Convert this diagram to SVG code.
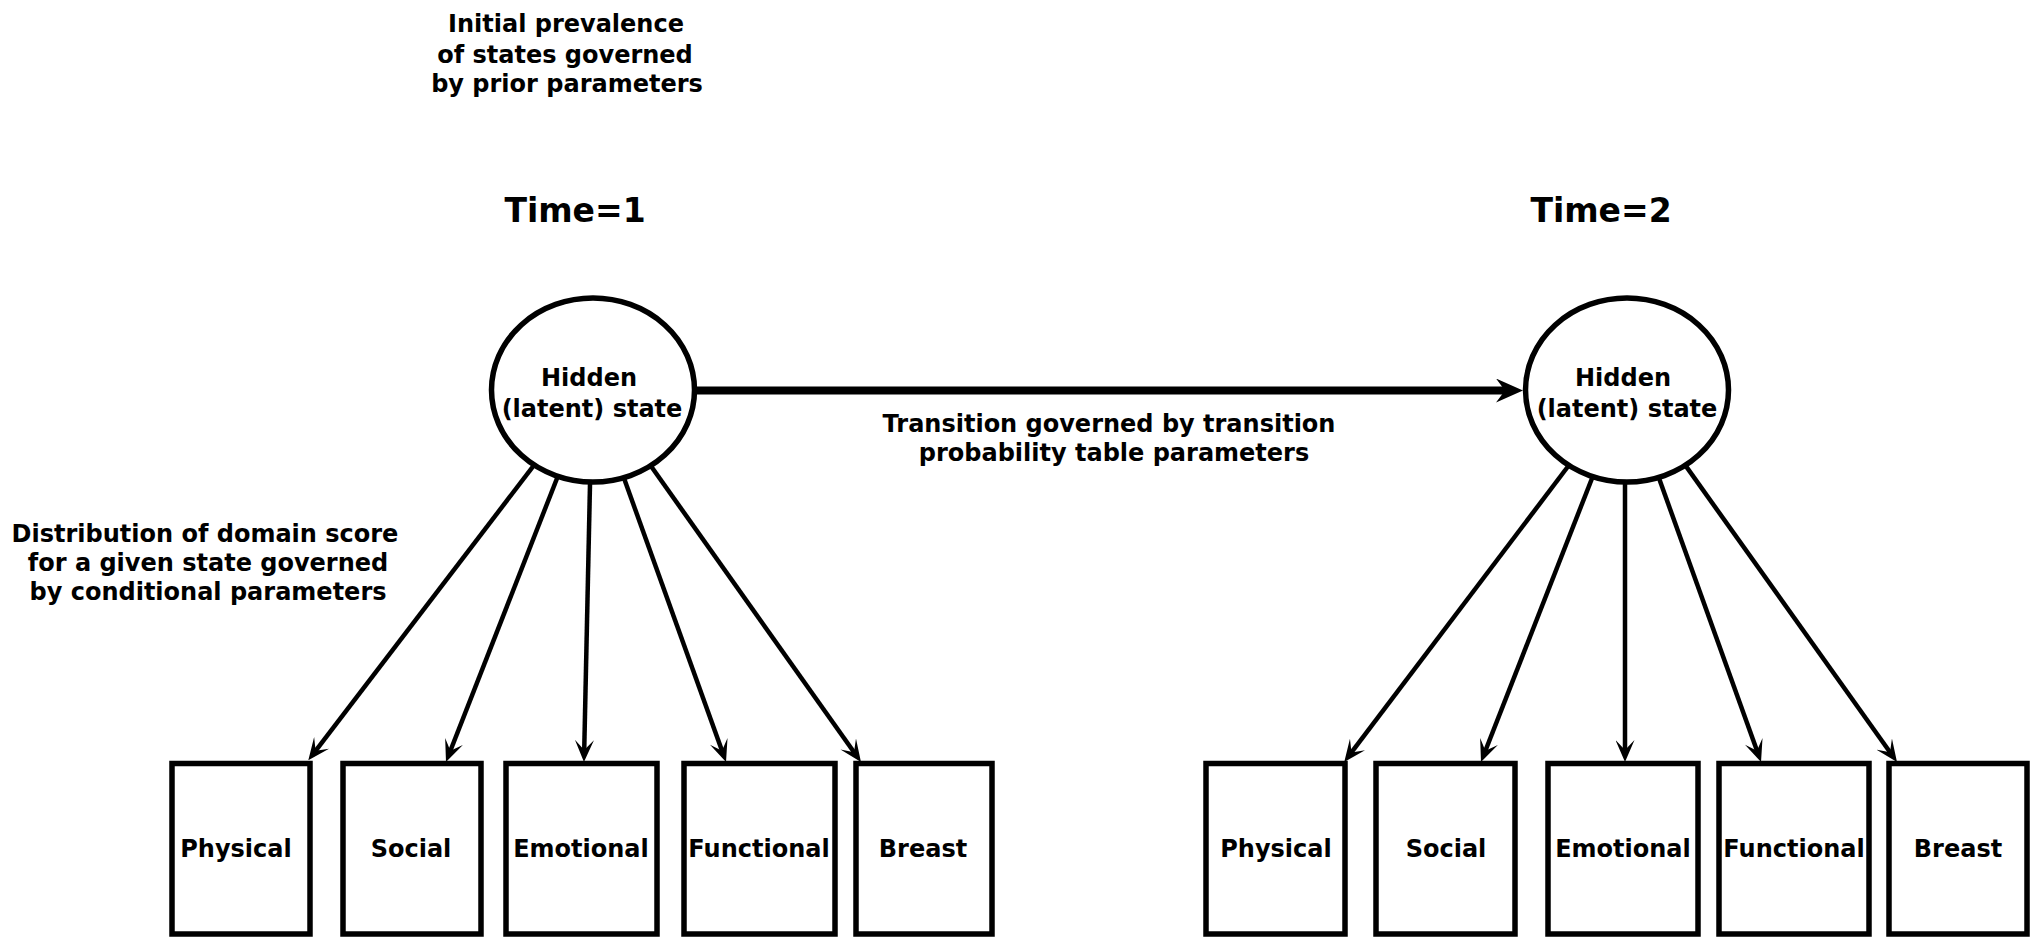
<svg xmlns="http://www.w3.org/2000/svg" width="2042" height="947" viewBox="0 0 2042 947">
  <style>
    .t { font-family: "DejaVu Sans", "Liberation Sans", sans-serif; font-weight: bold; font-size: 24px; fill: #000; text-anchor: middle; }
    .time { font-size: 33px; }
    .state { fill: #fff; stroke: #000; stroke-width: 5.5; }
    .box { fill: #fff; stroke: #000; stroke-width: 5.5; }
    .edge { stroke: #000; stroke-width: 4.5; fill: none; marker-end: url(#ah); }
    .trans { stroke: #000; stroke-width: 8; fill: none; marker-end: url(#ahBig); }
  </style>
  <defs>
    <marker id="ah" markerUnits="userSpaceOnUse" viewBox="0 0 22 19" markerWidth="22" markerHeight="19" refX="11" refY="9.5" orient="auto">
      <path d="M0,0 L22,9.5 L0,19 L10,9.5 Z" fill="#000"/>
    </marker>
    <marker id="ahBig" markerUnits="userSpaceOnUse" viewBox="0 0 27 24" markerWidth="27" markerHeight="24" refX="10" refY="12" orient="auto">
      <path d="M0,0 L27,12 L0,24 L9,12 Z" fill="#000"/>
    </marker>
  </defs>
  <rect width="2042" height="947" fill="#fff"/>

  <g id="annotations">
    <text class="t" x="566" y="32">Initial prevalence</text>
    <text class="t" x="565" y="63">of states governed</text>
    <text class="t" x="567" y="92">by prior parameters</text>
    <text class="t time" x="575" y="222">Time=1</text>
    <text class="t time" x="1601" y="222">Time=2</text>
    <text class="t" x="205" y="542">Distribution of domain score</text>
    <text class="t" x="208" y="571">for a given state governed</text>
    <text class="t" x="208" y="600">by conditional parameters</text>
    <text class="t" x="1109" y="432">Transition governed by transition</text>
    <text class="t" x="1114" y="461">probability table parameters</text>
  </g>

  <g id="connectors">
    <line class="trans" x1="690" y1="390.5" x2="1506" y2="390.5"/>
    <line class="edge" x1="537.1" y1="461.1" x2="315" y2="751.6"/>
    <line class="edge" x1="559.6" y1="471.7" x2="450" y2="751.8"/>
    <line class="edge" x1="590.2" y1="475" x2="584.2" y2="751"/>
    <line class="edge" x1="621.6" y1="471.6" x2="722.3" y2="751.6"/>
    <line class="edge" x1="647.2" y1="460.8" x2="854.6" y2="753"/>
    <line class="edge" x1="1572.1" y1="461" x2="1350.9" y2="753.2"/>
    <line class="edge" x1="1594.6" y1="471.7" x2="1485" y2="751.8"/>
    <line class="edge" x1="1625" y1="475" x2="1625" y2="751"/>
    <line class="edge" x1="1656.6" y1="471.6" x2="1757.3" y2="751.6"/>
    <line class="edge" x1="1682.2" y1="460.9" x2="1890.6" y2="753"/>
  </g>

  <g id="state1">
    <ellipse class="state" cx="593" cy="390" rx="101.5" ry="92"/>
    <text class="t" x="589" y="386">Hidden</text>
    <text class="t" x="592" y="417">(latent) state</text>
  </g>
  <g id="state2">
    <ellipse class="state" cx="1627" cy="390" rx="101.5" ry="92"/>
    <text class="t" x="1623" y="386">Hidden</text>
    <text class="t" x="1627" y="417">(latent) state</text>
  </g>

  <g id="t1-physical">
    <rect class="box" x="172" y="763.5" width="138" height="170.5"/>
    <text class="t" x="236" y="857">Physical</text>
  </g>
  <g id="t1-social">
    <rect class="box" x="343" y="763.5" width="138" height="170.5"/>
    <text class="t" x="411" y="857">Social</text>
  </g>
  <g id="t1-emotional">
    <rect class="box" x="506" y="763.5" width="151" height="170.5"/>
    <text class="t" x="581" y="857">Emotional</text>
  </g>
  <g id="t1-functional">
    <rect class="box" x="684" y="763.5" width="151" height="170.5"/>
    <text class="t" x="759" y="857">Functional</text>
  </g>
  <g id="t1-breast">
    <rect class="box" x="856" y="763.5" width="136" height="170.5"/>
    <text class="t" x="923" y="857">Breast</text>
  </g>

  <g id="t2-physical">
    <rect class="box" x="1206" y="763.5" width="139" height="170.5"/>
    <text class="t" x="1276" y="857">Physical</text>
  </g>
  <g id="t2-social">
    <rect class="box" x="1376" y="763.5" width="139" height="170.5"/>
    <text class="t" x="1446" y="857">Social</text>
  </g>
  <g id="t2-emotional">
    <rect class="box" x="1548" y="763.5" width="150" height="170.5"/>
    <text class="t" x="1623" y="857">Emotional</text>
  </g>
  <g id="t2-functional">
    <rect class="box" x="1719" y="763.5" width="150" height="170.5"/>
    <text class="t" x="1794" y="857">Functional</text>
  </g>
  <g id="t2-breast">
    <rect class="box" x="1889" y="763.5" width="138" height="170.5"/>
    <text class="t" x="1958" y="857">Breast</text>
  </g>
</svg>
